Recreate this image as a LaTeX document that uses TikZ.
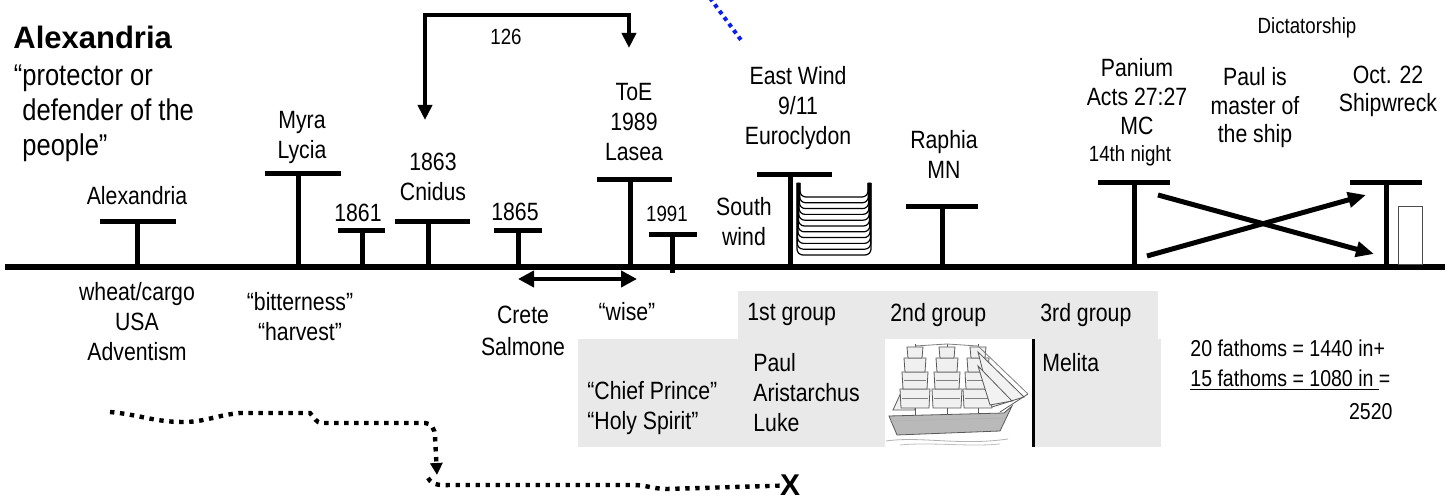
\documentclass[tikz,border=0pt]{standalone}
\usepackage{fontspec}
\setmainfont{Liberation Sans}
\newfontfamily\narrow{Liberation Sans}[FakeStretch=0.85]
\usetikzlibrary{arrows.meta}
\definecolor{panelgray}{HTML}{E9E9E9}
\definecolor{dotblue}{HTML}{0A1EF0}

\begin{document}
\begin{tikzpicture}[x=0.5pt, y=-0.5pt,
    txt/.style={font=\narrow\fontsize{12.5}{15}\selectfont, align=center, inner sep=0pt},
    small/.style={font=\narrow\fontsize{11}{13.5}\selectfont, align=center, inner sep=0pt},
    bar/.style={line width=2.5pt},
    arrow/.style={line width=2pt, -{Triangle[length=7.5pt, width=7pt]}},
    cross/.style={line width=2.5pt, -{Triangle[length=9pt, width=7.5pt]}},
    dots/.style={line width=2.2pt, dash pattern=on 2.2pt off 2.8pt}]
\useasboundingbox (0,0) rectangle (1448,501);

% groups table
\fill [panelgray] (738,291) rectangle (1158,339);
\fill [panelgray] (578,339) rectangle (1161,447);
\fill [white] (885,339) rectangle (1032,447);
\draw [line width=1.5pt] (1033,339) -- (1033,447);

% ship
\begin{scope}[draw=gray!70!black, line width=0.4pt]
    \filldraw [fill=gray!12] (915,362) -- (893,410) -- (915,410) -- cycle;
    \foreach \m in {915,947,978} {
        \draw (\m,420) -- (\m,344);
        \filldraw [fill=gray!12] (\m-15,389) -- (\m+15,389) -- (\m+14,408) -- (\m-14,408) -- cycle;
        \filldraw [fill=gray!12] (\m-13,372) -- (\m+13,372) -- (\m+12,389) -- (\m-12,389) -- cycle;
        \filldraw [fill=gray!12] (\m-11,358) -- (\m+11,358) -- (\m+10,372) -- (\m-10,372) -- cycle;
        \filldraw [fill=gray!12] (\m-8,347) -- (\m+8,347) -- (\m+7,358) -- (\m-7,358) -- cycle;
        \draw [gray] (\m-13,398) -- (\m+13,398) (\m-11,380) -- (\m+11,380);
    }
    \filldraw [fill=gray!10] (978,352) -- (1024,397) -- (992,407) -- cycle;
    \filldraw [fill=gray!10] (978,366) -- (1012,401) -- (990,405) -- cycle;
    \draw (1000,412) -- (1028,394);
    \draw [gray] (947,344) -- (978,346) (915,346) -- (947,344) (978,346) -- (1028,394);
    \filldraw [fill=gray!55] (889,416) -- (1004,413) -- (1012,406) -- (1000,431) -- (897,435) -- cycle;
    \draw [gray!60] (890,421) -- (1003,418);
    \draw [gray!60] (886,441) .. controls (920,436) and (960,446) .. (1008,439);
    \draw [gray!50] (900,445) .. controls (930,442) and (970,447) .. (1000,444);
\end{scope}

% time line
\draw [line width=3pt] (5,267) -- (1445,267);

\draw [bar] (100,222) -- (176,222);
\draw [bar] (137,222) -- (137,267);
\draw [bar] (265,174) -- (341,174);
\draw [bar] (298,174) -- (298,267);
\draw [bar] (338,231) -- (385,231);
\draw [bar] (362,231) -- (362,267);
\draw [bar] (395,222) -- (470,222);
\draw [bar] (428,222) -- (428,267);
\draw [bar] (494,231) -- (542,231);
\draw [bar] (518,231) -- (518,267);
\draw [bar] (597,180) -- (672,180);
\draw [bar] (630,180) -- (630,270);
\draw [bar] (649,235) -- (697,235);
\draw [bar] (672,235) -- (672,273);
\draw [bar] (757,175) -- (832,175);
\draw [bar] (790,175) -- (790,267);
\draw [bar] (906,207) -- (978,207);
\draw [bar] (942,207) -- (942,267);
\draw [bar] (1098,183) -- (1170,183);
\draw [bar] (1134,183) -- (1134,267);
\draw [bar] (1350,183) -- (1422,183);
\draw [bar] (1386,183) -- (1386,267);

\foreach \k in {0,...,10}
    \draw [line width=0.6pt, rounded corners=3pt] ({797+0.3*(10-\k)},183) -- ({797+0.3*(10-\k)},{197+5.8*\k}) -- ({871-0.3*(10-\k)},{197+5.8*\k}) -- ({871-0.3*(10-\k)},183);

\draw [gray!60!black, line width=0.5pt] (1398,207) rectangle (1422,265);

% labels above
\node [font=\bfseries\fontsize{15.5}{18}\selectfont, anchor=west, inner sep=0pt] (city) at (13,37) {Alexandria};
\node [txt, font=\narrow\fontsize{15}{17.5}\selectfont, align=left, anchor=west] (meaning) at (22,113) {\llap{“}protector or\\defender of the\\people”};
\node [txt] (alex) at (137,196) {Alexandria};
\node [txt] (myra) at (302,138) {Myra\\Lycia};
\node [txt] (y1861) at (358,213) {1861};
\node [txt] (cnidus) at (433,177) {1863\\Cnidus};
\node [txt] (y1865) at (515,212) {1865};
\node [txt] (lasea) at (634,122) {ToE\\1989\\Lasea};
\node [small] (y1991) at (667,214) {1991};
\node [txt] (south) at (744,222) {South\\wind};
\node [txt] (east) at (798,108) {East Wind\\9/11\\Euroclydon};
\node [txt] (raphia) at (944,154) {Raphia\\MN};
\node [txt, font=\narrow\fontsize{12.5}{14.5}\selectfont] (panium) at (1137,97) {Panium\\Acts 27:27\\MC};
\node [small] (night) at (1130,156) {14th night};
\node [txt, font=\narrow\fontsize{12.5}{14.25}\selectfont] (master) at (1255,108) {Paul is\\master of\\the ship};
\node [txt, font=\narrow\fontsize{12.5}{14}\selectfont] (wreck) at (1388,91) {Oct. 22\\Shipwreck};
\node [small] (dict) at (1307,28) {Dictatorship};
\node [small] (span) at (506,37) {126};

% labels below
\node [txt] (cargo) at (137,322) {wheat/cargo\\USA\\Adventism};
\node [txt] (bitter) at (300,317) {“bitterness”\\“harvest”};
\node [txt, font=\narrow\fontsize{12.5}{16}\selectfont] (crete) at (523,331) {Crete\\Salmone};
\node [txt] (wise) at (627,312) {“wise”};
\node [txt, anchor=west] (g1) at (747,315) {1st group};
\node [txt, anchor=west] (g2) at (890,315) {2nd group};
\node [txt, anchor=west] (g3) at (1040,315) {3rd group};
\node [txt, align=left, anchor=west] (crew) at (753,393) {Paul\\Aristarchus\\Luke};
\node [txt, align=left, anchor=west] (names) at (587,408) {“Chief Prince”\\“Holy Spirit”};
\node [txt, anchor=west] (melita) at (1042,363) {Melita};
\node [txt, font=\narrow\fontsize{11.5}{15}\selectfont, align=left, anchor=west] (sum) at (1190,365) {20 fathoms = 1440 in+\\\underline{15 fathoms = 1080 in\ }=};
\node [txt, font=\narrow\fontsize{11.5}{15}\selectfont, anchor=east] (total) at (1393,412) {2520};
\node [font=\bfseries\fontsize{15}{15}\selectfont, inner sep=0pt, anchor=base] (xmark) at (790,496) {X};

% arrows
\coordinate (t1) at (425,120);
\coordinate (b1) at (425,15);
\coordinate (b2) at (629,15);
\coordinate (t2) at (629,48);
\draw [line width=2pt, {Triangle[length=7.5pt, width=7pt]}-{Triangle[length=7.5pt, width=7pt]}] (t1) -- (b1) -- (b2) -- (t2);

\coordinate (w1) at (518,279);
\coordinate (w2) at (637,279);
\draw [line width=2pt, {Triangle[length=8pt, width=8pt]}-{Triangle[length=8pt, width=8pt]}] (w1) -- (w2);

\coordinate (c1) at (1158,195);
\coordinate (c2) at (1374,254);
\coordinate (c3) at (1147,256);
\coordinate (c4) at (1366,195);
\draw [cross] (c1) -- (c2);
\draw [cross] (c3) -- (c4);

\coordinate (bl1) at (710,-2);
\coordinate (bl2) at (741,40);
\draw [dotblue, line width=2pt, dash pattern=on 2pt off 2pt] (bl1) -- (bl2);

\coordinate (start) at (110,412);
\coordinate (drop) at (437,475);
\draw [dots, -{Triangle[length=6pt, width=6pt]}] (start) to[out=-5, in=180] (183,422) to[out=0, in=185] (240,413) -- (310,413) to[out=-45, in=180] (322,423) -- (425,423) to[out=0, in=90] (435,436) -- (drop);
\draw [dots] (428,478) to[out=-60, in=180] (452,485) -- (633,485) to[out=0, in=180] (667,489) -- (xmark.west);
\end{tikzpicture}
\end{document}
